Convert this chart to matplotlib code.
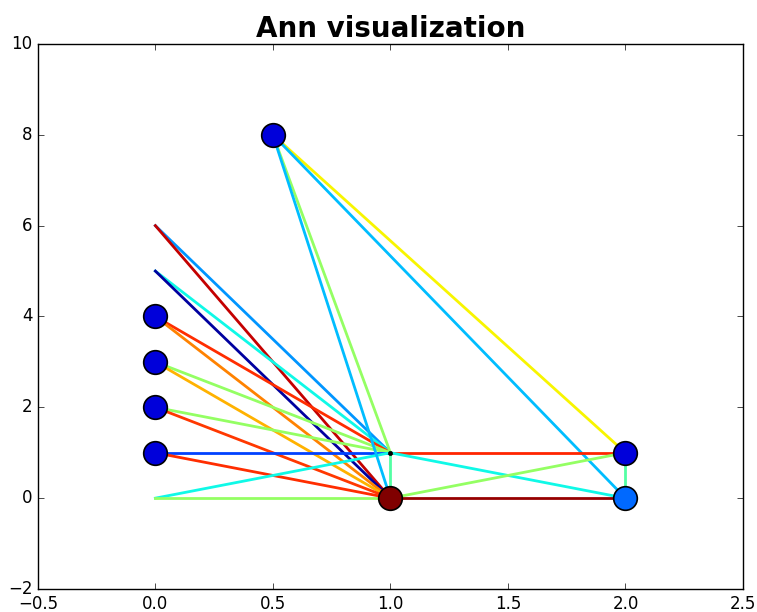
import matplotlib
matplotlib.use("Agg")
import matplotlib.pyplot as plt
import numpy as np

plt.style.use('classic')

# edges: start point, end point, weight (colormap value 0..1, jet)
edge_x0 = [0, 0, 0, 0, 0, 0, 0, 0, 0, 0, 0, 0, 0, 0,
           0.5, 0.5, 0.5, 0.5, 1, 1, 1, 1, 1, 2]
edge_y0 = [6, 6, 5, 5, 4, 4, 3, 3, 2, 2, 1, 1, 0, 0,
           8, 8, 8, 8, 1, 1, 1, 0, 0, 1]
edge_x1 = [1, 1, 1, 1, 1, 1, 1, 1, 1, 1, 1, 1, 1, 1,
           1, 1, 2, 2, 2, 2, 1, 2, 2, 2]
edge_y1 = [1, 0, 1, 0, 1, 0, 1, 0, 1, 0, 1, 0, 1, 0,
           1, 0, 1, 0, 1, 0, 0, 1, 0, 0]
edge_w = [0.27, 0.94, 0.37, 0.03, 0.86, 0.77, 0.53, 0.72, 0.53, 0.85, 0.19, 0.86, 0.37, 0.53,
          0.53, 0.31, 0.65, 0.31, 0.87, 0.37, 0.45, 0.53, 0.98, 0.45]

# neurons
node_x = [0, 0, 0, 0, 0.5, 1, 2, 2]
node_y = [1, 2, 3, 4, 8, 0, 1, 0]
node_w = [0.08, 0.08, 0.08, 0.08, 0.08, 1.00, 0.08, 0.23]

cmap = plt.get_cmap('jet')

fig = plt.figure(figsize=(7.57, 6.12), dpi=100)
ax = fig.add_axes([0.050, 0.0376, 0.9315, 0.8905])

for i in range(len(edge_w)):
    ax.plot([edge_x0[i], edge_x1[i]], [edge_y0[i], edge_y1[i]],
            color=cmap(edge_w[i]), lw=2, zorder=1)

# hidden unit without marker color
ax.plot([1], [1], 'o', color='black', ms=3, zorder=2)

for i in range(len(node_w)):
    ax.plot(node_x[i], node_y[i], 'o', ms=17, color=cmap(node_w[i]),
            markeredgecolor='black', markeredgewidth=1.2, zorder=3)

ax.set_xlim(-0.5, 2.5)
ax.set_ylim(-2, 10)
ax.tick_params(labelsize=12)
ax.set_title('Ann visualization', fontsize=20, fontweight='bold')

plt.savefig('out.png', dpi=100)
